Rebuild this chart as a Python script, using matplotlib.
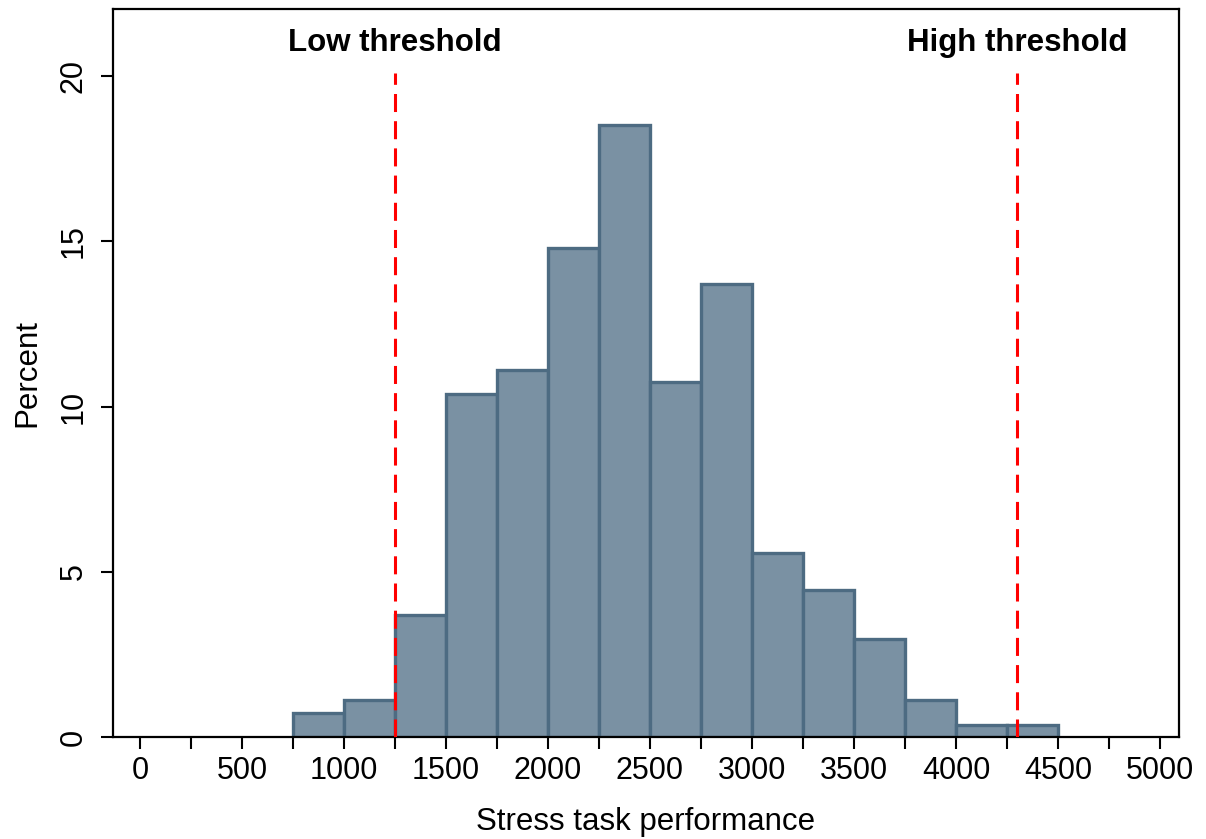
import numpy as np
from matplotlib import pyplot as plt

plt.rcParams['font.family'] = ['Liberation Sans', 'DejaVu Sans']

# histogram bins (left edges, width 250) and percent per bin
bin_left = [750, 1000, 1250, 1500, 1750, 2000, 2250, 2500, 2750, 3000,
            3250, 3500, 3750, 4000, 4250]
bin_width = 250
percent = [0.74, 1.11, 3.70, 10.37, 11.11, 14.81, 18.52, 10.74, 13.70, 5.56,
           4.44, 2.96, 1.11, 0.37, 0.37]

thresholds = [1250, 4300]
threshold_labels = ["Low threshold", "High threshold"]

xticks = list(range(0, 5001, 500))
xminor = list(range(250, 5000, 500))
yticks = [0, 5, 10, 15, 20]

fig = plt.figure(figsize=(12.06, 8.39), dpi=100)
ax = fig.add_axes([0.0937, 0.1216, 0.8839, 0.8677])

ax.bar(bin_left, percent, width=bin_width, align='edge',
       color='#7a91a3', edgecolor='#4d6b82', linewidth=2.4, zorder=2)

for t, lab in zip(thresholds, threshold_labels):
    ax.plot([t, t], [0, 20.1], color='#ff0000', linestyle=(0, (5.9, 3.0)),
            linewidth=2.2, zorder=3)
    ax.text(t, 21.0, lab, ha='center', va='center', fontsize=22.5,
            fontweight='bold')

ax.set_xlim(-132, 5093)
ax.set_ylim(0, 22.03)

ax.set_xticks(xticks)
ax.set_xticks(xminor, minor=True)
ax.set_yticks(yticks)
ax.set_yticklabels([str(v) for v in yticks], rotation=90, va='center')

ax.tick_params(axis='both', which='both', direction='out', length=8.5,
               width=1.5, labelsize=22, color='black')
ax.tick_params(axis='x', pad=5)
ax.tick_params(axis='y', pad=9)

for s in ax.spines.values():
    s.set_linewidth(1.6)

ax.set_xlabel("Stress task performance", fontsize=22.5, labelpad=15)
ax.set_ylabel("Percent", fontsize=22.5, labelpad=12)

fig.savefig("out.png", dpi=100)
